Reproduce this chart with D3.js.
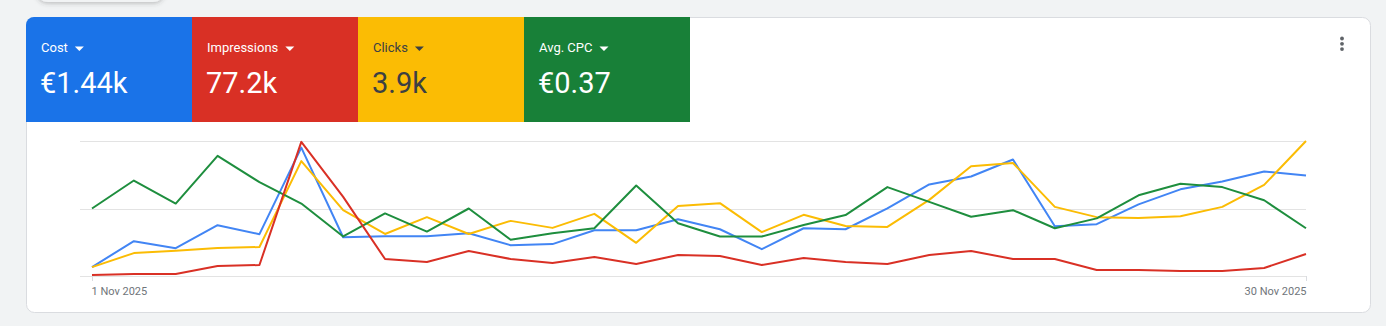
<!DOCTYPE html>
<html>
<head>
<meta charset="utf-8">
<script src="https://cdn.jsdelivr.net/npm/d3@7"></script>
<style>
  body { margin: 0; background: #f1f3f4; font-family: Roboto, "Noto Sans", sans-serif; }
  svg { display: block; }
</style>
</head>
<body>
<svg id="chart" width="1386" height="326"></svg>
<script>
// metric tiles
const metricNames = ["Cost", "Impressions", "Clicks", "Avg. CPC"];
const metricTotals = ["€1.44k", "77.2k", "3.9k", "€0.37"];

// daily values, 1 - 30 Nov 2025
const cost = [7.3, 28.4, 22.7, 41.4, 34.1, 104.6, 31.6, 32.4, 32.4, 34.9, 25.1, 26.0, 37.3, 37.3, 46.2,
  38.1, 21.9, 38.9, 38.1, 55.1, 74.6, 81.1, 94.9, 40.6, 42.2, 58.4, 70.6, 77.0, 85.2, 81.9];
const impressions = [130, 260, 260, 1320, 1450, 17690, 10430, 2240, 1850, 3300, 2240, 1720, 2510, 1580, 2770,
  2640, 1450, 2380, 1850, 1580, 2770, 3300, 2240, 2240, 790, 790, 660, 660, 1060, 2900];
const clicks = [19, 49, 54, 60, 62, 246, 141, 90, 126, 90, 118, 103, 133, 71, 150,
  156, 94, 131, 107, 105, 163, 235, 242, 148, 126, 124, 128, 148, 195, 289];
const avgCpc = [0.41, 0.58, 0.44, 0.73, 0.57, 0.44, 0.24, 0.38, 0.27, 0.41, 0.22, 0.26, 0.29, 0.55, 0.32,
  0.24, 0.24, 0.31, 0.37, 0.54, 0.45, 0.36, 0.40, 0.29, 0.35, 0.49, 0.56, 0.54, 0.46, 0.29];

// each series gets its own y scale (top of chart)
const seriesMax = [110, 17800, 289, 0.82];

const days = d3.range(30).map(i => new Date(2025, 10, 1 + i));
const axisTicks = [days[0], days[29]];

const tileColors = ["#1a73e8", "#d93025", "#fbbc04", "#188038"];
const tileText = ["#fff", "#fff", "#3c4043", "#fff"];
const lineColors = ["#4285f4", "#d93025", "#fbbc04", "#1e8e3e"];

const svg = d3.select("#chart");

// shadowed thing peeking in at the top
const defs = svg.append("defs");
const f = defs.append("filter").attr("id", "shadow").attr("x", "-20%").attr("y", "-50%").attr("width", "140%").attr("height", "200%");
f.append("feDropShadow").attr("dx", 0).attr("dy", 1.5).attr("stdDeviation", 2).attr("flood-color", "#3c4043").attr("flood-opacity", 0.3);
svg.append("rect").attr("x", 36).attr("y", -30).attr("width", 129).attr("height", 32).attr("rx", 12)
  .attr("fill", "#f1f3f4").attr("filter", "url(#shadow)");

// card
defs.append("clipPath").attr("id", "cardClip")
  .append("rect").attr("x", 26).attr("y", 17).attr("width", 1345).attr("height", 296).attr("rx", 8);
svg.append("rect").attr("x", 26.5).attr("y", 17.5).attr("width", 1344).attr("height", 295).attr("rx", 8)
  .attr("fill", "#fff").attr("stroke", "#dadce0");

// tiles
const tileW = 166;
const tiles = svg.append("g").attr("clip-path", "url(#cardClip)")
  .selectAll("g").data(metricNames).enter().append("g")
  .attr("transform", (d, i) => "translate(" + (26 + i * tileW) + ",17)");
tiles.append("rect").attr("width", tileW).attr("height", 105).attr("fill", (d, i) => tileColors[i]);
tiles.append("text").attr("x", 15).attr("y", 35).attr("font-size", 13)
  .attr("fill", (d, i) => tileText[i]).text(d => d)
  .each(function(d, i) {
    const w = this.getComputedTextLength();
    d3.select(this.parentNode).append("path")
      .attr("d", "M" + (15 + w + 7) + ",29.5 h9 l-4.5,4.5 z")
      .attr("fill", tileText[i]);
  });
tiles.append("text").attr("x", 14).attr("y", 76).attr("font-size", 29)
  .attr("fill", (d, i) => tileText[i]).text((d, i) => metricTotals[i]);

// kebab menu
svg.append("g").selectAll("circle").data([0, 1, 2]).enter().append("circle")
  .attr("cx", 1342).attr("cy", d => 38.5 + d * 5.3).attr("r", 1.9).attr("fill", "#5f6368");

// plot
const x = d3.scaleTime().domain([days[0], days[29]]).range([92, 1306]);
const grid = d3.scaleLinear().domain([0, 1]).range([276, 141]);

svg.append("g").selectAll("line").data([0, 0.5, 1]).enter().append("line")
  .attr("x1", 80).attr("x2", 1306)
  .attr("y1", d => Math.round(grid(d)) + 0.5).attr("y2", d => Math.round(grid(d)) + 0.5)
  .attr("stroke", "#e3e3e3").attr("stroke-width", 1.2);

const xAxis = svg.append("g").attr("transform", "translate(0,276)")
  .call(d3.axisBottom(x).tickValues(axisTicks).tickSize(5).tickPadding(6).tickFormat(d3.timeFormat("%-d %b %Y")));
xAxis.select(".domain").remove();
xAxis.selectAll("line").attr("stroke", "#dadce0");
xAxis.selectAll("text").attr("font-family", "Roboto, sans-serif").attr("font-size", 11).attr("fill", "#70757a")
  .attr("text-anchor", (d, i) => i === 0 ? "start" : "end")
  .attr("dx", (d, i) => i === 0 ? -1 : 0);

const allSeries = [cost, impressions, clicks, avgCpc];
const drawOrder = [0, 2, 3, 1];

drawOrder.forEach(function(k) {
  const y = d3.scaleLinear().domain([0, seriesMax[k]]).range([276, 141]);
  const line = d3.line().x((d, i) => x(days[i])).y(d => y(d));
  svg.append("path").datum(allSeries[k])
    .attr("d", line)
    .attr("fill", "none")
    .attr("stroke", lineColors[k])
    .attr("stroke-width", 2)
    .attr("stroke-linejoin", "round");
});
</script>
</body>
</html>
